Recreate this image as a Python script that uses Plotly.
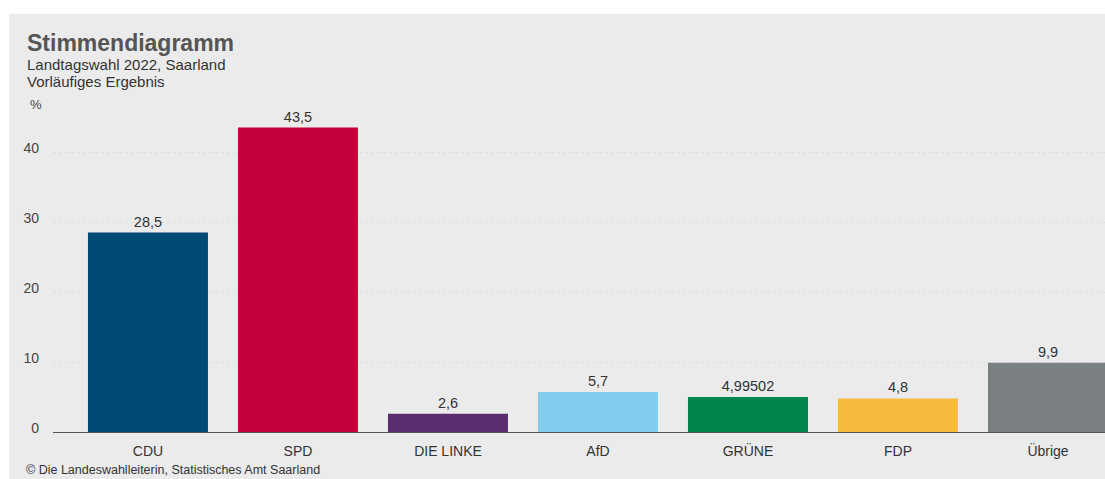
import plotly.graph_objects as go

categories = ["CDU", "SPD", "DIE LINKE", "AfD", "GRÜNE", "FDP", "Übrige"]
values = [28.5, 43.5, 2.6, 5.7, 4.99502, 4.8, 9.9]
value_labels = ["28,5", "43,5", "2,6", "5,7", "4,99502", "4,8", "9,9"]
colors = ["#004b75", "#c3003c", "#5c2d6e", "#82cdee", "#00864a", "#f6bb3e", "#7b8182"]
y_ticks = [0, 10, 20, 30, 40]

W, H = 1105, 479
L, R, T, B = 53, 1105, 105, 432  # plot area in pixels
BG = "#ebebeb"
FONT = "Liberation Sans, Arial, sans-serif"


def px2x(px):
    return (px - L) / (R - L)


def px2y(py):
    return (B - py) / (B - T)


fig = go.Figure()
fig.add_trace(go.Bar(
    x=categories,
    y=values,
    marker=dict(color=colors, line=dict(width=0)),
    width=0.8,
    text=value_labels,
    textposition="outside",
    textfont=dict(family=FONT, size=14.5, color="#333333"),
    cliponaxis=False,
    hoverinfo="skip",
))

fig.update_layout(
    width=W, height=H,
    margin=dict(l=L, r=W - R, t=T, b=H - B, pad=0),
    paper_bgcolor=BG,
    plot_bgcolor=BG,
    showlegend=False,
    bargap=0.2,
    xaxis=dict(
        range=[-0.633, 6.38],
        showgrid=False,
        showline=True, linecolor="#555555", linewidth=1,
        ticks="",
        tickfont=dict(family=FONT, size=14, color="#333333"),
        ticklabelstandoff=6,
        fixedrange=True,
    ),
    yaxis=dict(
        range=[0, (B - T) / 7.0],
        tickvals=y_ticks,
        ticktext=[str(v) for v in y_ticks],
        showgrid=True, gridcolor="#dedede", griddash="dot", gridwidth=1,
        zeroline=False,
        showline=False,
        ticks="",
        tickfont=dict(family=FONT, size=14, color="#444444"),
        ticklabelstandoff=13,
        ticklabelshift=-4,
        fixedrange=True,
    ),
)

# white page margin around the grey panel
fig.add_shape(type="rect", xref="paper", yref="paper", layer="above",
              x0=px2x(0), x1=px2x(W), y0=px2y(14), y1=px2y(0),
              fillcolor="white", line=dict(width=0))
fig.add_shape(type="rect", xref="paper", yref="paper", layer="above",
              x0=px2x(0), x1=px2x(9), y0=px2y(H), y1=px2y(14),
              fillcolor="white", line=dict(width=0))

texts = [
    ("<b>Stimmendiagramm</b>", 25, 43, 23, "#555555"),
    ("Landtagswahl 2022, Saarland", 25, 64.5, 15, "#333333"),
    ("Vorläufiges Ergebnis", 25, 81.5, 15, "#333333"),
    ("%", 28, 104, 13, "#444444"),
    ("© Die Landeswahlleiterin, Statistisches Amt Saarland", 24, 470, 12.5, "#333333"),
]
for txt, x, y, size, col in texts:
    fig.add_annotation(text=txt, xref="paper", yref="paper",
                       x=px2x(x), y=px2y(y), xanchor="left", yanchor="middle",
                       showarrow=False, font=dict(family=FONT, size=size, color=col))

fig.write_html("out.html")
